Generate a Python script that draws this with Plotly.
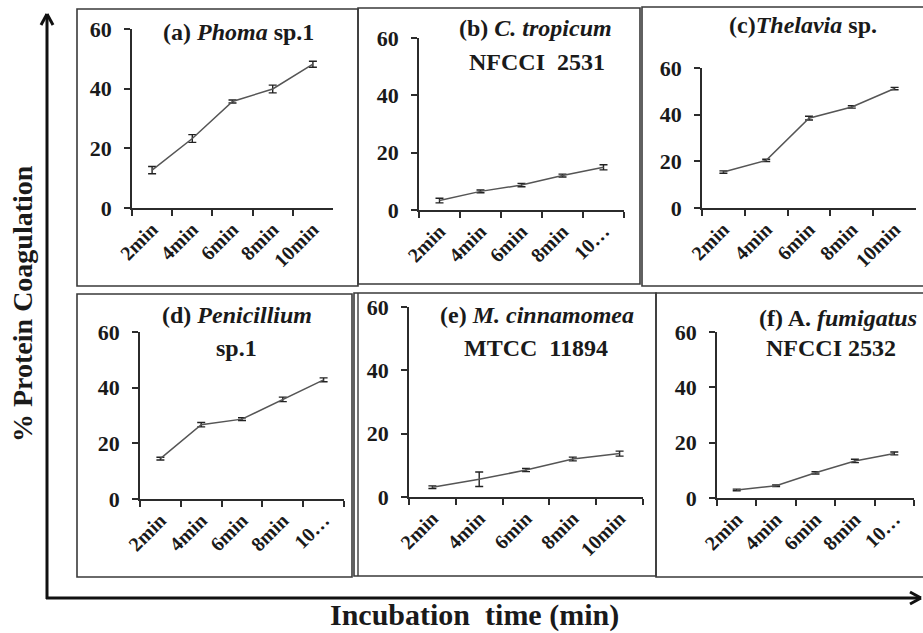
import plotly.graph_objects as go

W, H = 923, 633

# ---- data -------------------------------------------------------------
times = ["2min", "4min", "6min", "8min", "10min"]
times_short = ["2min", "4min", "6min", "8min", "10\u2026"]

phoma = [12.7, 23.3, 35.7, 39.9, 48.2]
phoma_err = [1.2, 1.3, 0.5, 1.3, 1.0]

tropicum = [3.3, 6.5, 8.7, 12.0, 14.9]
tropicum_err = [0.8, 0.5, 0.6, 0.5, 0.9]

thelavia = [15.4, 20.4, 38.5, 43.3, 51.2]
thelavia_err = [0.5, 0.5, 0.8, 0.5, 0.5]

penicillium = [14.5, 26.7, 28.7, 35.8, 42.8]
penicillium_err = [0.5, 0.8, 0.5, 0.8, 0.7]

cinnamomea = [3.1, 5.6, 8.5, 12.0, 13.7]
cinnamomea_err = [0.4, 2.3, 0.5, 0.6, 0.8]

fumigatus = [2.9, 4.4, 9.1, 13.4, 16.1]
fumigatus_err = [0.3, 0.3, 0.4, 0.6, 0.5]

y_ticks = [0, 20, 40, 60]

# ---- layout helpers (pixel -> paper) ---------------------------------
def px(x):
    return x / W


def py(y):
    return 1 - y / H


FONT = "Liberation Serif, Times New Roman, serif"
INK = "#1a1a1a"
AXIS = "#2b2b2b"
BOX = "#3a3a3a"

panels = [
    # values, errors, tick labels, plot area (x0, y0, x1, y1 in px), title lines
    dict(v=phoma, e=phoma_err, ticks=times, area=(132, 29, 333, 208),
         lines=[("<b>(a) <i>Phoma</i> sp.1</b>", 238, 32)]),
    dict(v=tropicum, e=tropicum_err, ticks=times_short, area=(419, 38, 624, 210),
         lines=[("<b>(b) <i>C. tropicum</i></b>", 535, 28),
                ("<b>NFCCI\u00a0\u00a02531</b>", 537, 62)]),
    dict(v=thelavia, e=thelavia_err, ticks=times, area=(702, 68, 916, 208),
         lines=[("<b>(c)<i>Thelavia</i> sp.</b>", 803, 25)]),
    dict(v=penicillium, e=penicillium_err, ticks=times_short, area=(140, 332, 344, 499),
         lines=[("<b>(d) <i>Penicillium</i></b>", 237, 315),
                ("<b>sp.1</b>", 236, 348)]),
    dict(v=cinnamomea, e=cinnamomea_err, ticks=times, area=(409, 307, 643, 497),
         lines=[("<b>(e) <i>M. cinnamomea</i></b>", 537, 315),
                ("<b>MTCC\u00a0\u00a011894</b>", 536, 348)]),
    dict(v=fumigatus, e=fumigatus_err, ticks=times_short, area=(717, 332, 914, 498),
         lines=[("<b>(f) A. <i>fumigatus</i></b>", 838, 318),
                ("<b>NFCCI 2532</b>", 831, 348)]),
]

fig = go.Figure()
annotations = []

for i, p in enumerate(panels, start=1):
    xa = "x" if i == 1 else f"x{i}"
    ya = "y" if i == 1 else f"y{i}"
    fig.add_trace(go.Scatter(
        x=times, y=p["v"], xaxis=xa, yaxis=ya, mode="lines",
        line=dict(color="#555555", width=1.5),
        error_y=dict(type="data", array=p["e"], visible=True,
                     color="#222222", thickness=1.4, width=4),
        hoverinfo="skip", showlegend=False,
    ))
    x0, y0, x1, y1 = p["area"]
    key = "" if i == 1 else str(i)
    fig.layout[f"xaxis{key}"] = dict(
        domain=[px(x0), px(x1)], anchor=ya, type="category",
        categoryorder="array", categoryarray=times,
        range=[-0.5, 4.5], tickson="boundaries", automargin=False,
        tickvals=times, ticktext=p["ticks"], tickangle=-45,
        ticks="outside", ticklen=6, tickwidth=1.5, tickcolor=AXIS,
        showline=True, linecolor=AXIS, linewidth=1.5,
        showgrid=False, zeroline=False,
        tickfont=dict(family=FONT, size=20, color=INK, weight="bold"),
    )
    fig.layout[f"yaxis{key}"] = dict(
        domain=[py(y1), py(y0)], anchor=xa, range=[0, 60], automargin=False,
        tickvals=y_ticks, ticks="outside", ticklen=6, tickwidth=1.5,
        tickcolor=AXIS, showline=True, linecolor=AXIS, linewidth=1.5,
        showgrid=False, zeroline=False, ticklabelstandoff=8,
        tickfont=dict(family=FONT, size=22, color=INK, weight="bold"),
    )
    for text, cx, cy in p["lines"]:
        annotations.append(dict(
            text=text, x=px(cx), y=py(cy), xref="paper", yref="paper",
            xanchor="center", yanchor="middle", showarrow=False,
            font=dict(family=FONT, size=24, color=INK),
        ))

# axis titles for the whole figure
annotations.append(dict(
    text="<b>% Protein Coagulation</b>", x=px(22), y=py(304),
    xref="paper", yref="paper", textangle=-90, showarrow=False,
    xanchor="center", yanchor="middle",
    font=dict(family=FONT, size=28, color=INK),
))
annotations.append(dict(
    text="<b>Incubation\u00a0\u00a0time (min)</b>", x=px(474), y=py(615),
    xref="paper", yref="paper", showarrow=False,
    xanchor="center", yanchor="middle",
    font=dict(family=FONT, size=30, color=INK),
))

# panel frames
boxes = [
    (77, 9, 358, 286), (358, 8, 640, 284), (642, 7, 926, 286),
    (77, 294, 352, 577), (354, 293, 656, 576), (656, 293, 926, 577),
]
shapes = []
for bx0, by0, bx1, by1 in boxes:
    shapes.append(dict(type="rect", xref="paper", yref="paper",
                       x0=px(bx0), y0=py(by1), x1=px(bx1), y1=py(by0),
                       line=dict(color=BOX, width=1.6)))
# inner rule of the double frame on panel (e)
shapes.append(dict(type="line", xref="paper", yref="paper",
                   x0=px(358), y0=py(576), x1=px(358), y1=py(293),
                   line=dict(color=BOX, width=1.4)))

# outer arrows (vertical and horizontal)
ARW = dict(color="#111111", width=3)
segments = [
    ((47, 599), (47, 14)),
    ((46, 598), (921, 598)),
    ((47, 14), (41, 25)), ((47, 14), (53, 25)),
    ((921, 598), (910, 592)), ((921, 598), (910, 604)),
]
for (ax0, ay0), (ax1, ay1) in segments:
    shapes.append(dict(type="line", xref="paper", yref="paper",
                       x0=px(ax0), y0=py(ay0), x1=px(ax1), y1=py(ay1),
                       line=ARW))

fig.update_layout(
    template="none",
    width=W, height=H, margin=dict(l=0, r=0, t=0, b=0, pad=0),
    paper_bgcolor="white", plot_bgcolor="white",
    showlegend=False, annotations=annotations, shapes=shapes,
)

fig.write_html("out.html")
